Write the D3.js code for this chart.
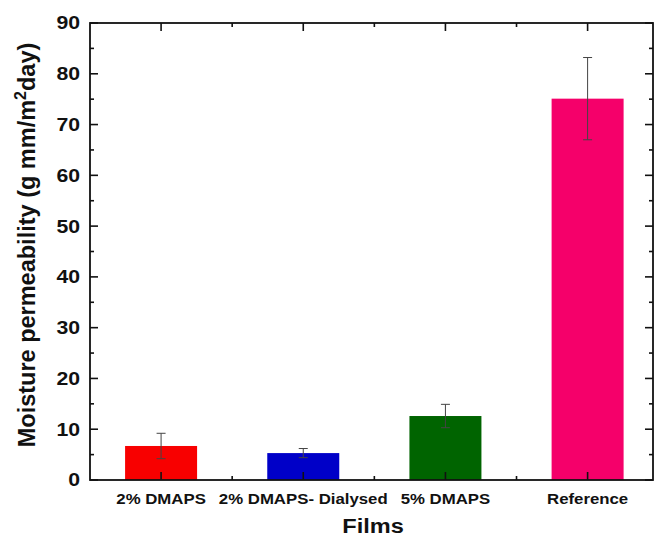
<!DOCTYPE html>
<html><head><meta charset="utf-8">
<script src="https://cdn.jsdelivr.net/npm/d3@7"></script>
<style>body{margin:0;background:#fff}svg{display:block}text{font-family:Arial,"Liberation Sans",sans-serif;font-weight:bold;fill:#111}</style>
</head><body>
<script>
const categories = ["2% DMAPS", "2% DMAPS- Dialysed", "5% DMAPS", "Reference"];
const values = [6.7, 5.3, 12.6, 75.1];
const errors = [2.5, 0.9, 2.3, 8.1];
const colors = ["#f80000", "#0000c8", "#006400", "#f5006a"];
const yTicks = [0, 10, 20, 30, 40, 50, 60, 70, 80, 90];

const W = 658, H = 540;
const L = 90, R = 653, T = 23, B = 480;
const svg = d3.select("body").append("svg").attr("width", W).attr("height", H);

const x = d3.scaleLinear().domain([0.5, 4.46]).range([L, R]);
const y = d3.scaleLinear().domain([0, 90]).range([B, T]);
const barW = 72;

svg.selectAll("rect.bar").data(values).join("rect")
  .attr("x", (d, i) => x(i + 1) - barW / 2).attr("width", barW)
  .attr("y", d => y(d)).attr("height", d => y(0) - y(d))
  .attr("fill", (d, i) => colors[i]);

const eg = svg.append("g").attr("stroke", "#444").attr("stroke-width", 1);
values.forEach((v, i) => {
  const cx = x(i + 1);
  eg.append("line").attr("x1", cx).attr("x2", cx).attr("y1", y(v + errors[i])).attr("y2", y(v - errors[i]));
  [v + errors[i], v - errors[i]].forEach(e => {
    eg.append("line").attr("x1", cx - 4.5).attr("x2", cx + 4.5).attr("y1", y(e)).attr("y2", y(e));
  });
});

svg.append("rect").attr("x", L).attr("y", T).attr("width", R - L).attr("height", B - T)
  .attr("fill", "none").attr("stroke", "#111").attr("stroke-width", 1.8);

const yMinor = d3.range(5, 90, 10);
const tg = svg.append("g").attr("stroke", "#111").attr("stroke-width", 1.6);
yTicks.forEach(t => {
  tg.append("line").attr("x1", L).attr("x2", L + 8).attr("y1", y(t)).attr("y2", y(t));
  tg.append("line").attr("x1", R).attr("x2", R - 8).attr("y1", y(t)).attr("y2", y(t));
});
yMinor.forEach(t => {
  tg.append("line").attr("x1", L).attr("x2", L + 4).attr("y1", y(t)).attr("y2", y(t));
  tg.append("line").attr("x1", R).attr("x2", R - 4).attr("y1", y(t)).attr("y2", y(t));
});
categories.forEach((c, i) => {
  const cx = x(i + 1);
  tg.append("line").attr("x1", cx).attr("x2", cx).attr("y1", B).attr("y2", B - 8);
  tg.append("line").attr("x1", cx).attr("x2", cx).attr("y1", T).attr("y2", T + 8);
  if (i < categories.length - 1) {
    const mx = x(i + 1.5);
    tg.append("line").attr("x1", mx).attr("x2", mx).attr("y1", B).attr("y2", B - 4);
    tg.append("line").attr("x1", mx).attr("x2", mx).attr("y1", T).attr("y2", T + 4);
  }
});

svg.selectAll("text.yl").data(yTicks).join("text")
  .attr("transform", d => `translate(${L - 10},${y(d)}) scale(1.18,1)`)
  .attr("dy", "0.36em").attr("text-anchor", "end").attr("font-size", 18).text(d => d);

svg.selectAll("text.xl").data(categories).join("text")
  .attr("transform", (d, i) => `translate(${x(i + 1)},504) scale(1.2,1)`)
  .attr("text-anchor", "middle").attr("font-size", 14).text(d => d);

svg.append("text").attr("transform", "translate(373,533) scale(1.15,1)").attr("text-anchor", "middle")
  .attr("font-size", 20.5).text("Films");
const yt = svg.append("text").attr("transform", `translate(35,245) rotate(-90)`)
  .attr("text-anchor", "middle").attr("font-size", 23.5);
yt.append("tspan").text("Moisture permeability (g mm/m");
yt.append("tspan").attr("dy", -9).attr("font-size", 16).text("2");
yt.append("tspan").attr("dy", 9).text("day)");
</script>
</body></html>
